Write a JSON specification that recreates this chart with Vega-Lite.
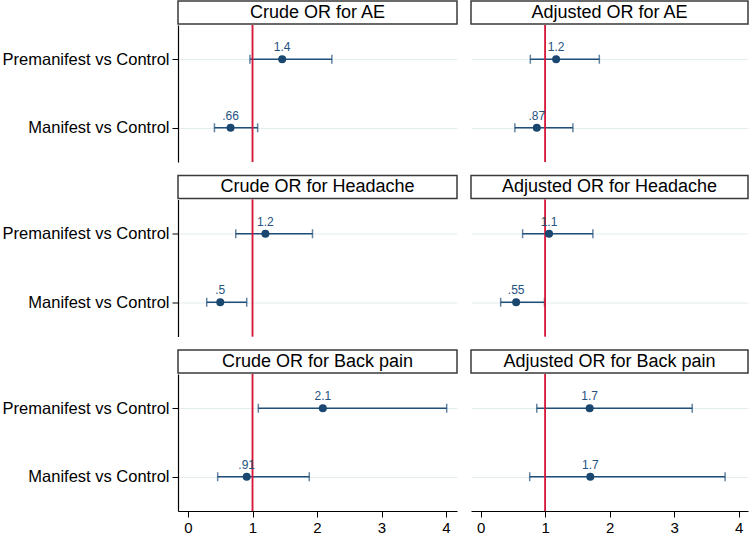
{
  "$schema": "https://vega.github.io/schema/vega-lite/v6.json",
  "padding": {"left": 2, "top": 0, "right": 0, "bottom": 0},
  "background": "white",
  "config": {
    "view": {"stroke": null},
    "font": "Liberation Sans",
    "axis": {"gridColor": "#e3ecef", "gridWidth": 1}
  },
  "datasets": {
    "or": [
      {"outcome": "AE", "type": "Crude", "group": "Premanifest vs Control", "or": 1.46, "lo": 0.96, "hi": 2.23, "lab": "1.4"},
      {"outcome": "AE", "type": "Crude", "group": "Manifest vs Control", "or": 0.66, "lo": 0.41, "hi": 1.08, "lab": ".66"},
      {"outcome": "AE", "type": "Adjusted", "group": "Premanifest vs Control", "or": 1.17, "lo": 0.77, "hi": 1.84, "lab": "1.2"},
      {"outcome": "AE", "type": "Adjusted", "group": "Manifest vs Control", "or": 0.87, "lo": 0.53, "hi": 1.43, "lab": ".87"},
      {"outcome": "Headache", "type": "Crude", "group": "Premanifest vs Control", "or": 1.2, "lo": 0.74, "hi": 1.93, "lab": "1.2"},
      {"outcome": "Headache", "type": "Crude", "group": "Manifest vs Control", "or": 0.5, "lo": 0.29, "hi": 0.91, "lab": ".5"},
      {"outcome": "Headache", "type": "Adjusted", "group": "Premanifest vs Control", "or": 1.06, "lo": 0.65, "hi": 1.74, "lab": "1.1"},
      {"outcome": "Headache", "type": "Adjusted", "group": "Manifest vs Control", "or": 0.55, "lo": 0.31, "hi": 0.99, "lab": ".55"},
      {"outcome": "Back pain", "type": "Crude", "group": "Premanifest vs Control", "or": 2.09, "lo": 1.09, "hi": 4.01, "lab": "2.1"},
      {"outcome": "Back pain", "type": "Crude", "group": "Manifest vs Control", "or": 0.91, "lo": 0.46, "hi": 1.88, "lab": ".91"},
      {"outcome": "Back pain", "type": "Adjusted", "group": "Premanifest vs Control", "or": 1.69, "lo": 0.87, "hi": 3.28, "lab": "1.7"},
      {"outcome": "Back pain", "type": "Adjusted", "group": "Manifest vs Control", "or": 1.7, "lo": 0.76, "hi": 3.79, "lab": "1.7"}
    ],
    "titles": [
      {"panel": "AE Crude", "title": "Crude OR for AE"},
      {"panel": "AE Adjusted", "title": "Adjusted OR for AE"},
      {"panel": "Headache Crude", "title": "Crude OR for Headache"},
      {"panel": "Headache Adjusted", "title": "Adjusted OR for Headache"},
      {"panel": "Back pain Crude", "title": "Crude OR for Back pain"},
      {"panel": "Back pain Adjusted", "title": "Adjusted OR for Back pain"}
    ]
  },
  "spacing": 11.5,
  "vconcat": [
    {
      "spacing": 12,
      "hconcat": [
        {
          "spacing": -2.5,
          "vconcat": [
            {"data": {"name": "titles"}, "transform": [{"filter": "datum.panel == 'AE Crude'"}], "width": 279, "height": 23,
             "view": {"stroke": "#3a3a3a", "strokeWidth": 1.5},
             "mark": {"type": "text", "fontSize": 18, "color": "black"}, "encoding": {"text": {"field": "title"}}},
            {"data": {"name": "or"}, "transform": [{"filter": "datum.outcome == 'AE' && datum.type == 'Crude'"}], "width": 279, "height": 137,
             "encoding": {
               "y": {"field": "group", "type": "nominal", "scale": {"type": "point", "padding": 0.5, "domain": ["Premanifest vs Control", "Manifest vs Control"]},
                     "axis": {"title": null, "labelFontSize": 16.5, "labelColor": "black", "tickColor": "black", "domainColor": "black", "tickSize": 6, "labelPadding": 3, "domainWidth": 1.2, "grid": true}}
             },
             "layer": [
               {"mark": {"type": "rule", "color": "#1f4e79", "strokeWidth": 1.5}, "encoding": {"x": {"field": "lo", "type": "quantitative", "scale": {"domain": [-0.155, 4.17], "nice": false, "zero": false}, "axis": null}, "x2": {"field": "hi"}}},
               {"mark": {"type": "tick", "color": "#1f4e79", "size": 9, "thickness": 1.5}, "encoding": {"x": {"field": "lo", "type": "quantitative"}}},
               {"mark": {"type": "tick", "color": "#1f4e79", "size": 9, "thickness": 1.5}, "encoding": {"x": {"field": "hi", "type": "quantitative"}}},
               {"mark": {"type": "rule", "color": "#d6173a", "strokeWidth": 1.5}, "encoding": {"x": {"datum": 1}, "y": null}},
               {"mark": {"type": "point", "filled": true, "opacity": 1, "size": 64, "color": "#1a476f"}, "encoding": {"x": {"field": "or", "type": "quantitative"}}},
               {"mark": {"type": "text", "fontSize": 12, "color": "#24527f", "dy": -8, "baseline": "alphabetic"}, "encoding": {"x": {"field": "or", "type": "quantitative"}, "text": {"field": "lab"}}}
             ]}
          ]
        },
        {
          "spacing": -2.5,
          "vconcat": [
            {"data": {"name": "titles"}, "transform": [{"filter": "datum.panel == 'AE Adjusted'"}], "width": 277, "height": 23,
             "view": {"stroke": "#3a3a3a", "strokeWidth": 1.5},
             "mark": {"type": "text", "fontSize": 18, "color": "black"}, "encoding": {"text": {"field": "title"}}},
            {"data": {"name": "or"}, "transform": [{"filter": "datum.outcome == 'AE' && datum.type == 'Adjusted'"}], "width": 277, "height": 137,
             "encoding": {
               "y": {"field": "group", "type": "nominal", "scale": {"type": "point", "padding": 0.5, "domain": ["Premanifest vs Control", "Manifest vs Control"]},
                     "axis": {"title": null, "labels": false, "ticks": false, "domain": false, "grid": true}}
             },
             "layer": [
               {"mark": {"type": "rule", "color": "#1f4e79", "strokeWidth": 1.5}, "encoding": {"x": {"field": "lo", "type": "quantitative", "scale": {"domain": [-0.15, 4.145], "nice": false, "zero": false}, "axis": null}, "x2": {"field": "hi"}}},
               {"mark": {"type": "tick", "color": "#1f4e79", "size": 9, "thickness": 1.5}, "encoding": {"x": {"field": "lo", "type": "quantitative"}}},
               {"mark": {"type": "tick", "color": "#1f4e79", "size": 9, "thickness": 1.5}, "encoding": {"x": {"field": "hi", "type": "quantitative"}}},
               {"mark": {"type": "rule", "color": "#d6173a", "strokeWidth": 1.5}, "encoding": {"x": {"datum": 1}, "y": null}},
               {"mark": {"type": "point", "filled": true, "opacity": 1, "size": 64, "color": "#1a476f"}, "encoding": {"x": {"field": "or", "type": "quantitative"}}},
               {"mark": {"type": "text", "fontSize": 12, "color": "#24527f", "dy": -8, "baseline": "alphabetic"}, "encoding": {"x": {"field": "or", "type": "quantitative"}, "text": {"field": "lab"}}}
             ]}
          ]
        }
      ]
    },
    {
      "spacing": 12,
      "hconcat": [
        {
          "spacing": -2.5,
          "vconcat": [
            {"data": {"name": "titles"}, "transform": [{"filter": "datum.panel == 'Headache Crude'"}], "width": 279, "height": 23,
             "view": {"stroke": "#3a3a3a", "strokeWidth": 1.5},
             "mark": {"type": "text", "fontSize": 18, "color": "black"}, "encoding": {"text": {"field": "title"}}},
            {"data": {"name": "or"}, "transform": [{"filter": "datum.outcome == 'Headache' && datum.type == 'Crude'"}], "width": 279, "height": 137,
             "encoding": {
               "y": {"field": "group", "type": "nominal", "scale": {"type": "point", "padding": 0.5, "domain": ["Premanifest vs Control", "Manifest vs Control"]},
                     "axis": {"title": null, "labelFontSize": 16.5, "labelColor": "black", "tickColor": "black", "domainColor": "black", "tickSize": 6, "labelPadding": 3, "domainWidth": 1.2, "grid": true}}
             },
             "layer": [
               {"mark": {"type": "rule", "color": "#1f4e79", "strokeWidth": 1.5}, "encoding": {"x": {"field": "lo", "type": "quantitative", "scale": {"domain": [-0.155, 4.17], "nice": false, "zero": false}, "axis": null}, "x2": {"field": "hi"}}},
               {"mark": {"type": "tick", "color": "#1f4e79", "size": 9, "thickness": 1.5}, "encoding": {"x": {"field": "lo", "type": "quantitative"}}},
               {"mark": {"type": "tick", "color": "#1f4e79", "size": 9, "thickness": 1.5}, "encoding": {"x": {"field": "hi", "type": "quantitative"}}},
               {"mark": {"type": "rule", "color": "#d6173a", "strokeWidth": 1.5}, "encoding": {"x": {"datum": 1}, "y": null}},
               {"mark": {"type": "point", "filled": true, "opacity": 1, "size": 64, "color": "#1a476f"}, "encoding": {"x": {"field": "or", "type": "quantitative"}}},
               {"mark": {"type": "text", "fontSize": 12, "color": "#24527f", "dy": -8, "baseline": "alphabetic"}, "encoding": {"x": {"field": "or", "type": "quantitative"}, "text": {"field": "lab"}}}
             ]}
          ]
        },
        {
          "spacing": -2.5,
          "vconcat": [
            {"data": {"name": "titles"}, "transform": [{"filter": "datum.panel == 'Headache Adjusted'"}], "width": 277, "height": 23,
             "view": {"stroke": "#3a3a3a", "strokeWidth": 1.5},
             "mark": {"type": "text", "fontSize": 18, "color": "black"}, "encoding": {"text": {"field": "title"}}},
            {"data": {"name": "or"}, "transform": [{"filter": "datum.outcome == 'Headache' && datum.type == 'Adjusted'"}], "width": 277, "height": 137,
             "encoding": {
               "y": {"field": "group", "type": "nominal", "scale": {"type": "point", "padding": 0.5, "domain": ["Premanifest vs Control", "Manifest vs Control"]},
                     "axis": {"title": null, "labels": false, "ticks": false, "domain": false, "grid": true}}
             },
             "layer": [
               {"mark": {"type": "rule", "color": "#1f4e79", "strokeWidth": 1.5}, "encoding": {"x": {"field": "lo", "type": "quantitative", "scale": {"domain": [-0.15, 4.145], "nice": false, "zero": false}, "axis": null}, "x2": {"field": "hi"}}},
               {"mark": {"type": "tick", "color": "#1f4e79", "size": 9, "thickness": 1.5}, "encoding": {"x": {"field": "lo", "type": "quantitative"}}},
               {"mark": {"type": "tick", "color": "#1f4e79", "size": 9, "thickness": 1.5}, "encoding": {"x": {"field": "hi", "type": "quantitative"}}},
               {"mark": {"type": "rule", "color": "#d6173a", "strokeWidth": 1.5}, "encoding": {"x": {"datum": 1}, "y": null}},
               {"mark": {"type": "point", "filled": true, "opacity": 1, "size": 64, "color": "#1a476f"}, "encoding": {"x": {"field": "or", "type": "quantitative"}}},
               {"mark": {"type": "text", "fontSize": 12, "color": "#24527f", "dy": -8, "baseline": "alphabetic"}, "encoding": {"x": {"field": "or", "type": "quantitative"}, "text": {"field": "lab"}}}
             ]}
          ]
        }
      ]
    },
    {
      "spacing": 12,
      "hconcat": [
        {
          "spacing": -2.5,
          "vconcat": [
            {"data": {"name": "titles"}, "transform": [{"filter": "datum.panel == 'Back pain Crude'"}], "width": 279, "height": 23,
             "view": {"stroke": "#3a3a3a", "strokeWidth": 1.5},
             "mark": {"type": "text", "fontSize": 18, "color": "black"}, "encoding": {"text": {"field": "title"}}},
            {"data": {"name": "or"}, "transform": [{"filter": "datum.outcome == 'Back pain' && datum.type == 'Crude'"}], "width": 279, "height": 137,
             "encoding": {
               "y": {"field": "group", "type": "nominal", "scale": {"type": "point", "padding": 0.5, "domain": ["Premanifest vs Control", "Manifest vs Control"]},
                     "axis": {"title": null, "labelFontSize": 16.5, "labelColor": "black", "tickColor": "black", "domainColor": "black", "tickSize": 6, "labelPadding": 3, "domainWidth": 1.2, "grid": true}}
             },
             "layer": [
               {"mark": {"type": "rule", "color": "#1f4e79", "strokeWidth": 1.5}, "encoding": {"x": {"field": "lo", "type": "quantitative", "scale": {"domain": [-0.155, 4.17], "nice": false, "zero": false},
                 "axis": {"title": null, "values": [0, 1, 2, 3, 4], "format": "d", "grid": false, "labelFontSize": 15, "labelColor": "black", "tickColor": "black", "domainColor": "black", "tickSize": 6, "labelPadding": 3, "domainWidth": 1.2}}, "x2": {"field": "hi"}}},
               {"mark": {"type": "tick", "color": "#1f4e79", "size": 9, "thickness": 1.5}, "encoding": {"x": {"field": "lo", "type": "quantitative"}}},
               {"mark": {"type": "tick", "color": "#1f4e79", "size": 9, "thickness": 1.5}, "encoding": {"x": {"field": "hi", "type": "quantitative"}}},
               {"mark": {"type": "rule", "color": "#d6173a", "strokeWidth": 1.5}, "encoding": {"x": {"datum": 1}, "y": null}},
               {"mark": {"type": "point", "filled": true, "opacity": 1, "size": 64, "color": "#1a476f"}, "encoding": {"x": {"field": "or", "type": "quantitative"}}},
               {"mark": {"type": "text", "fontSize": 12, "color": "#24527f", "dy": -8, "baseline": "alphabetic"}, "encoding": {"x": {"field": "or", "type": "quantitative"}, "text": {"field": "lab"}}}
             ]}
          ]
        },
        {
          "spacing": -2.5,
          "vconcat": [
            {"data": {"name": "titles"}, "transform": [{"filter": "datum.panel == 'Back pain Adjusted'"}], "width": 277, "height": 23,
             "view": {"stroke": "#3a3a3a", "strokeWidth": 1.5},
             "mark": {"type": "text", "fontSize": 18, "color": "black"}, "encoding": {"text": {"field": "title"}}},
            {"data": {"name": "or"}, "transform": [{"filter": "datum.outcome == 'Back pain' && datum.type == 'Adjusted'"}], "width": 277, "height": 137,
             "encoding": {
               "y": {"field": "group", "type": "nominal", "scale": {"type": "point", "padding": 0.5, "domain": ["Premanifest vs Control", "Manifest vs Control"]},
                     "axis": {"title": null, "labels": false, "ticks": false, "domain": false, "grid": true}}
             },
             "layer": [
               {"mark": {"type": "rule", "color": "#1f4e79", "strokeWidth": 1.5}, "encoding": {"x": {"field": "lo", "type": "quantitative", "scale": {"domain": [-0.15, 4.145], "nice": false, "zero": false},
                 "axis": {"title": null, "values": [0, 1, 2, 3, 4], "format": "d", "grid": false, "labelFontSize": 15, "labelColor": "black", "tickColor": "black", "domainColor": "black", "tickSize": 6, "labelPadding": 3, "domainWidth": 1.2}}, "x2": {"field": "hi"}}},
               {"mark": {"type": "tick", "color": "#1f4e79", "size": 9, "thickness": 1.5}, "encoding": {"x": {"field": "lo", "type": "quantitative"}}},
               {"mark": {"type": "tick", "color": "#1f4e79", "size": 9, "thickness": 1.5}, "encoding": {"x": {"field": "hi", "type": "quantitative"}}},
               {"mark": {"type": "rule", "color": "#d6173a", "strokeWidth": 1.5}, "encoding": {"x": {"datum": 1}, "y": null}},
               {"mark": {"type": "point", "filled": true, "opacity": 1, "size": 64, "color": "#1a476f"}, "encoding": {"x": {"field": "or", "type": "quantitative"}}},
               {"mark": {"type": "text", "fontSize": 12, "color": "#24527f", "dy": -8, "baseline": "alphabetic"}, "encoding": {"x": {"field": "or", "type": "quantitative"}, "text": {"field": "lab"}}}
             ]}
          ]
        }
      ]
    }
  ]
}
